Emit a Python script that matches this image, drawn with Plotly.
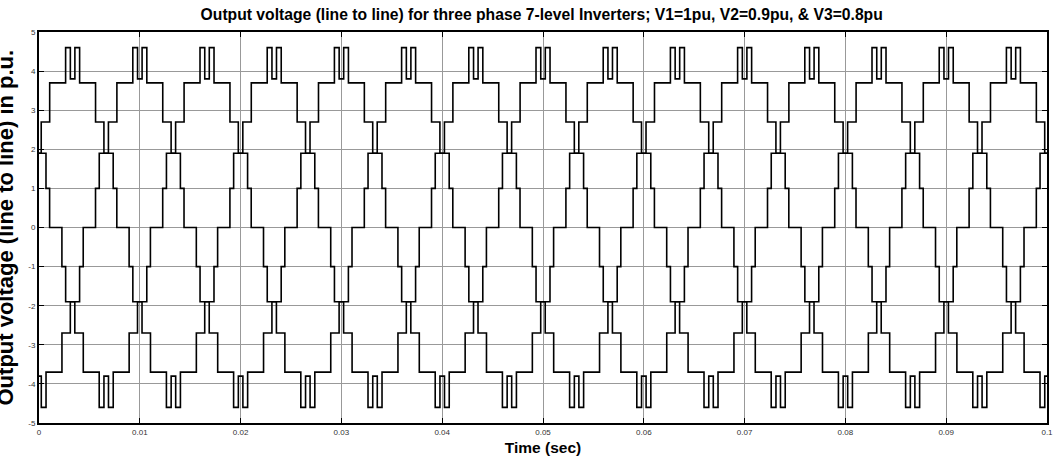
import plotly.graph_objects as go

# ---- data -----------------------------------------------------------------
# One period (20 ms) of the line-to-line voltage V_ab: step instants (ms) and
# the level (p.u.) held from each instant until the next one.
step_times_ms = [0.00, 0.22, 1.06, 2.64, 3.11, 3.56, 4.03, 5.61, 6.44, 7.36,
                 7.72, 8.94, 9.31, 10.22, 11.06, 12.64, 13.11, 13.56, 14.03,
                 15.61, 16.44, 17.36, 17.72, 18.94, 19.31]
step_levels_pu = [1.9, 2.7, 3.7, 4.6, 3.8, 4.6, 3.7, 2.7, 1.9, 1.0,
                  0.0, -1.0, -1.9, -2.7, -3.7, -4.6, -3.8, -4.6, -3.7,
                  -2.7, -1.9, -1.0, 0.0, 1.0, 1.9]
period_ms = 20.0
# the three line-to-line voltages (ab, bc, ca) are delayed copies (120 deg)
phase_delay_ms = [0.0, 6.667, 13.333]
cycles = [-1, 0, 1, 2, 3, 4, 5]

x_tick_vals = [0, 0.01, 0.02, 0.03, 0.04, 0.05, 0.06, 0.07, 0.08, 0.09, 0.1]
x_tick_text = ["0", "0.01", "0.02", "0.03", "0.04", "0.05", "0.06", "0.07",
               "0.08", "0.09", "0.1"]
y_tick_vals = [-5, -4, -3, -2, -1, 0, 1, 2, 3, 4, 5]
y_tick_text = ["-5", "-4", "-3", "-2", "-1", "0", "1", "2", "3", "4", "5"]

title_text = ("Output voltage (line to line) for three phase 7-level Inverters; "
              "V1=1pu, V2=0.9pu, & V3=0.8pu")
x_title = "Time (sec)"
y_title = "Output voltage (line to line) in p.u."

# ---- figure ---------------------------------------------------------------
FONT = "Liberation Sans, Arial, sans-serif"
fig = go.Figure()
for delay in phase_delay_ms:
    xs, ys = [], []
    for n in cycles:
        for t, v in zip(step_times_ms, step_levels_pu):
            xs.append((n * period_ms + delay + t) / 1000.0)
            ys.append(v)
    fig.add_trace(go.Scatter(x=xs, y=ys, mode="lines",
                             line=dict(color="black", width=1.6, shape="hv"),
                             showlegend=False, hoverinfo="skip"))

tick_font = dict(family=FONT, size=8, color="#333333")
fig.update_layout(
    width=1058, height=463,
    margin=dict(l=39, r=5, t=32, b=40),
    paper_bgcolor="white", plot_bgcolor="white",
    title=dict(text="<b>" + title_text + "</b>", x=0.512, xref="container",
               xanchor="center", y=1 - 14.5 / 463, yref="container", yanchor="middle",
               font=dict(family=FONT, size=15.7, color="black")),
    xaxis=dict(range=[0, 0.1], tickvals=x_tick_vals, ticktext=x_tick_text,
               showgrid=True, gridcolor="#999999", gridwidth=1,
               zeroline=False, showline=True, linecolor="black", linewidth=2,
               mirror="ticks", ticks="inside", ticklen=5, tickcolor="black",
               tickfont=tick_font,
               title=dict(text="<b>" + x_title + "</b>", standoff=7,
                          font=dict(family=FONT, size=15.5, color="black"))),
    yaxis=dict(range=[-5, 5], tickvals=y_tick_vals, ticktext=y_tick_text,
               showgrid=True, gridcolor="#999999", gridwidth=1,
               zeroline=False, showline=True, linecolor="black", linewidth=2,
               mirror="ticks", ticks="inside", ticklen=5, tickcolor="black",
               tickfont=tick_font),
    annotations=[dict(text="<b>" + y_title + "</b>", textangle=-90,
                      xref="paper", yref="paper", x=0, y=0.5, xshift=-34,
                      xanchor="center", yanchor="middle", showarrow=False,
                      font=dict(family=FONT, size=22, color="black"))],
)

fig.write_html("out.html",
               config={"displayModeBar": False},
               post_script="document.body.style.margin='0px';"
                           "document.body.style.overflow='hidden';")
